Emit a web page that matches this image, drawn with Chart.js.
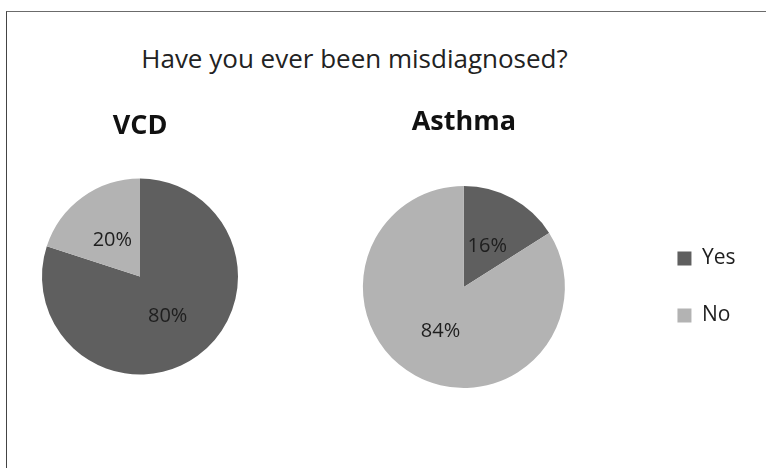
<!DOCTYPE html>
<html>
<head>
<meta charset="utf-8">
<script src="https://cdn.jsdelivr.net/npm/chart.js@4"></script>
<style>
  html, body { margin: 0; padding: 0; background: #fff; }
  #page { position: relative; width: 766px; height: 468px; overflow: hidden; }
  #frame { position: absolute; left: 6px; top: 11px; right: -2px; bottom: -2px;
           border-top: 1px solid #6b6b6b; border-left: 1px solid #444; }
  #mainTitle { position: absolute; left: 0; width: 709px; top: 40px; line-height: 26px;
               text-align: center; font: 26px "Open Sans", sans-serif; color: #222; }
  canvas { position: absolute; left: 0; top: 0; }
</style>
</head>
<body>
<div id="page">
  <div id="frame"></div>
  <div id="mainTitle">Have you ever been misdiagnosed?</div>
  <canvas id="vcdChart" width="766" height="468"></canvas>
  <canvas id="asthmaChart" width="766" height="468"></canvas>
</div>
<script>
// Pie data
const answers = ['Yes', 'No'];
const vcdValues = [80, 20];
const asthmaValues = [16, 84];
const sliceColors = ['#5f5f5f', '#b3b3b3'];

Chart.defaults.font.family = '"Open Sans", sans-serif';
Chart.defaults.color = '#1e1e1e';

// Percent labels drawn in the middle of each slice (no datalabels plugin available)
const percentLabels = {
  id: 'percentLabels',
  afterDatasetsDraw(chart) {
    const ctx = chart.ctx;
    const data = chart.data.datasets[0].data;
    const total = data.reduce((a, b) => a + b, 0);
    const meta = chart.getDatasetMeta(0);
    ctx.save();
    ctx.font = '20px "Open Sans", sans-serif';
    ctx.fillStyle = '#1e1e1e';
    ctx.textAlign = 'center';
    ctx.textBaseline = 'middle';
    meta.data.forEach((arc, i) => {
      const p = arc.getProps(['x', 'y', 'startAngle', 'endAngle', 'outerRadius'], true);
      const mid = (p.startAngle + p.endAngle) / 2;
      const r = p.outerRadius * 0.48;
      const pct = Math.round(data[i] / total * 100) + '%';
      ctx.fillText(pct, p.x + Math.cos(mid) * r, p.y + Math.sin(mid) * r + 2);
    });
    ctx.restore();
  }
};

function makePie(id, title, values, padding, titlePadBottom, showLegend) {
  return new Chart(document.getElementById(id), {
    type: 'pie',
    data: {
      labels: answers,
      datasets: [{
        data: values,
        backgroundColor: sliceColors,
        borderWidth: 0
      }]
    },
    options: {
      responsive: false,
      animation: false,
      layout: { padding: padding },
      plugins: {
        title: {
          display: true,
          text: title,
          fullSize: false,
          color: '#111',
          font: { size: 27, weight: 'bold', lineHeight: 1 },
          padding: { top: 0, bottom: titlePadBottom }
        },
        legend: {
          display: showLegend,
          position: 'right',
          fullSize: false,
          labels: {
            boxWidth: 14,
            boxHeight: 14,
            padding: 36,
            color: '#1e1e1e',
            font: { size: 21 }
          }
        },
        tooltip: { enabled: false }
      },
      events: []
    },
    plugins: [percentLabels]
  });
}

makePie('vcdChart', 'VCD', vcdValues, { left: 42, right: 528, top: 113, bottom: 93.5 }, 38.5, false);
makePie('asthmaChart', 'Asthma', asthmaValues, { left: 286.3, right: 20.5, top: 109, bottom: 80 }, 50, true);
</script>
</body>
</html>
